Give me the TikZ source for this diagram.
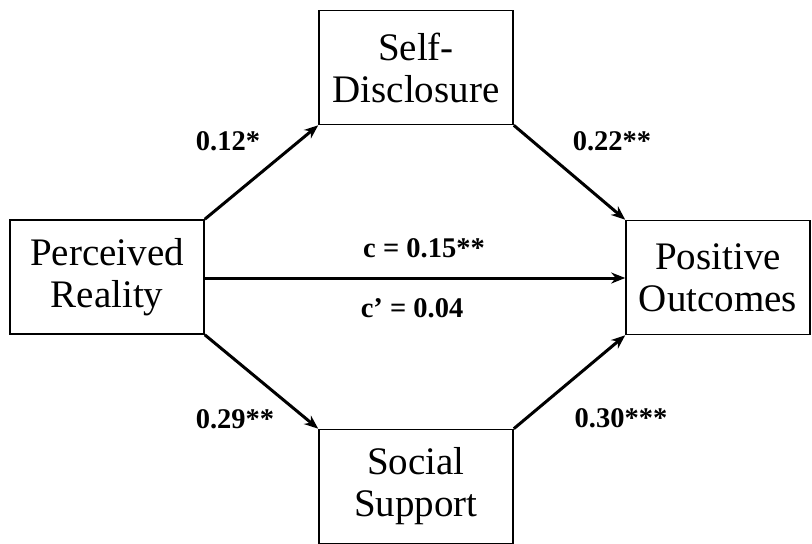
\documentclass[tikz,border=0pt]{standalone}
\usepackage{fontspec}
\setmainfont{Liberation Serif}
\usetikzlibrary{arrows.meta}

\begin{document}
\begin{tikzpicture}[x=1pt,y=-1pt,
        var/.style={draw, line width=1.6pt, align=center, inner sep=0pt,
            minimum width=194pt, minimum height=114pt,
            font=\fontsize{39}{42}\selectfont},
        path/.style={line width=3pt, -{Stealth[length=14pt,width=11pt]}},
        coef/.style={font=\fontsize{28.5}{32}\selectfont\bfseries}]
        \useasboundingbox (0,0) rectangle (812,544);
        % variables
        \node[var] (pr) at(107,277) {Perceived\\Reality};
        \node[var] (sd) at(416,67.5) {Self-\\Disclosure};
        \node[var] (ss) at(416,486.5) {Social\\Support};
        \node[var, minimum width=184pt] (po) at(718,277.5) {Positive\\Outcomes};
        % paths
        \draw[path] (pr.north east)--(sd.south west);
        \draw[path] (sd.south east)--(po.north west);
        \draw[path] (pr.south east)--(ss.north west);
        \draw[path] (ss.north east)--(po.south west);
        \draw[path] (pr.east |- 0,278)--(po.west |- 0,278);
        % coefficients
        \node[coef] (a1) at(228,141) {0.12*};
        \node[coef] (b1) at(612,141) {0.22**};
        \node[coef] (a2) at(235,419) {0.29**};
        \node[coef] (b2) at(621,418) {0.30***};
        \node[coef] (c) at(424,248) {c = 0.15**};
        \node[coef] (cp) at(412,308) {c’ = 0.04};
    \end{tikzpicture}
\end{document}
